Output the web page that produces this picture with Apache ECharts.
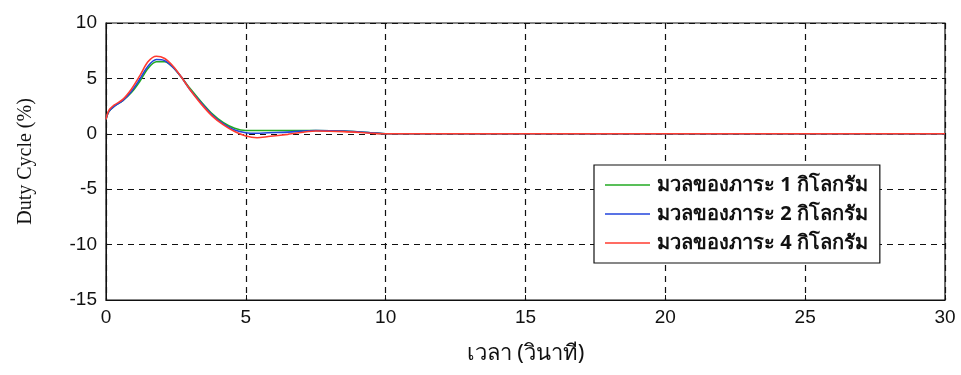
<!DOCTYPE html>
<html><head><meta charset="utf-8">
<script src="https://cdn.jsdelivr.net/npm/echarts@6/dist/echarts.min.js"></script>
<style>html,body{margin:0;padding:0;background:#fff}#c{width:961px;height:375px}</style>
</head><body><div id="c"></div>
<script>
const times = [0, 0.1, 0.3, 0.6, 0.9, 1.2, 1.5, 1.8, 2.1, 2.4, 2.7, 3.0, 3.4, 3.8, 4.2, 4.6, 5.0, 5.4, 5.8, 6.5, 7.5, 8.5, 9.5, 10, 30];
const load1 = [1.3, 2.0, 2.5, 3.0, 3.7, 4.7, 5.9, 6.5, 6.5, 6.0, 5.1, 4.1, 2.9, 1.8, 1.0, 0.5, 0.3, 0.3, 0.3, 0.3, 0.3, 0.25, 0.1, 0, 0];
const load2 = [1.3, 2.0, 2.5, 3.0, 3.8, 4.9, 6.1, 6.7, 6.6, 6.0, 5.1, 4.0, 2.8, 1.7, 0.9, 0.35, 0.1, 0.05, 0.1, 0.15, 0.3, 0.25, 0.1, 0, 0];
const load4 = [1.3, 2.1, 2.6, 3.1, 4.0, 5.2, 6.5, 7.0, 6.8, 6.1, 5.1, 4.0, 2.7, 1.6, 0.8, 0.2, -0.2, -0.35, -0.25, -0.05, 0.25, 0.2, 0.05, 0, 0];
const names = ['มวลของภาระ 1 กิโลกรัม', 'มวลของภาระ 2 กิโลกรัม', 'มวลของภาระ 4 กิโลกรัม'];
const colors = ['#22aa22', '#2244dd', '#ff3b2f'];
const xTicks = [0, 5, 10, 15, 20, 25, 30];
const yTicks = [-15, -10, -5, 0, 5, 10];

const mk = (arr) => times.map((t, i) => [t, arr[i]]);
const chart = echarts.init(document.getElementById('c'));
const tickFont = {fontFamily: 'Liberation Sans Narrow, Liberation Sans, Arial', fontSize: 19, color: '#111'};
chart.setOption({
  animation: false,
  grid: {left: 106, right: 16, top: 23, bottom: 75, show: true, borderColor: '#111', borderWidth: 1.2},
  legend: {
    orient: 'vertical', left: 594, top: 165, width: 285,
    backgroundColor: '#fff', borderColor: '#111', borderWidth: 1.2,
    padding: [10, 12, 10, 11], itemGap: 9,
    icon: 'rect', itemWidth: 45, itemHeight: 1.5,
    textStyle: {fontSize: 20, fontWeight: 'bold', color: '#111', fontFamily: 'Noto Sans, sans-serif', padding: [0, 0, 0, 2]},
    data: names
  },
  xAxis: {
    type: 'value', min: 0, max: 30, interval: 5,
    name: 'เวลา (วินาที)', nameLocation: 'middle', nameGap: 43,
    nameTextStyle: {fontSize: 22, color: '#111', fontFamily: 'Noto Sans, sans-serif'},
    axisLine: {show: true, onZero: false, lineStyle: {color: '#111'}},
    axisTick: {inside: true, length: 5, lineStyle: {color: '#111'}},
    axisLabel: Object.assign({margin: 8, formatter: v => xTicks.includes(v) ? String(v) : ''}, tickFont),
    splitLine: {show: true, lineStyle: {color: '#111', type: [6, 5], width: 1.2}}
  },
  yAxis: {
    type: 'value', min: -15, max: 10, interval: 5,
    name: 'Duty Cycle (%)', nameLocation: 'middle', nameGap: 70,
    nameTextStyle: {fontSize: 20, color: '#111', fontFamily: 'Liberation Serif, Times New Roman, serif'},
    axisLine: {show: true, lineStyle: {color: '#111'}},
    axisTick: {inside: true, length: 5, lineStyle: {color: '#111'}},
    axisLabel: Object.assign({margin: 9, formatter: v => yTicks.includes(v) ? String(v) : ''}, tickFont),
    splitLine: {show: true, lineStyle: {color: '#111', type: [6, 5], width: 1.2}}
  },
  series: [load1, load2, load4].map((arr, i) => ({
    type: 'line', name: names[i], data: mk(arr), smooth: 0.3, showSymbol: false,
    lineStyle: {color: colors[i], width: 1.6}, itemStyle: {color: colors[i]}, z: 3 + i
  }))
});
</script></body></html>
